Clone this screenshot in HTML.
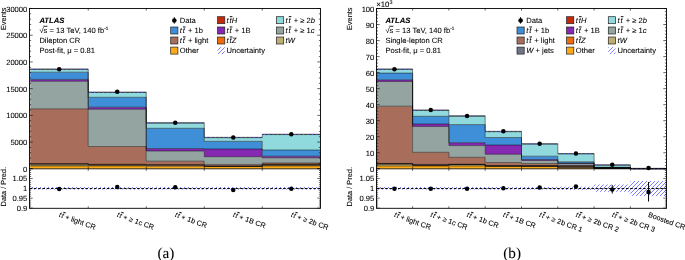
<!DOCTYPE html>
<html><head><meta charset="utf-8"><style>
html,body{margin:0;padding:0;background:#fff;}
svg{display:block;will-change:transform;}
text{font-family:"Liberation Sans", sans-serif;text-rendering:geometricPrecision;fill:#000;stroke:#000;stroke-width:0.08px;}
</style></head><body>
<svg width="685" height="260" viewBox="0 0 685 260">
<defs><pattern id="hatch" patternUnits="userSpaceOnUse" width="4" height="4"><path d="M-1,1 l2,-2 M0,4 l4,-4 M3,5 l2,-2" stroke="#5c5cff" stroke-width="0.95" stroke-opacity="0.85"/></pattern></defs>
<path d="M30.2,166 L88.22,166 L88.22,166 L146.24,166 L146.24,166.2 L204.26,166.2 L204.26,166.5 L262.28,166.5 L262.28,166 L320.3,166 L320.3,168.8 L262.28,168.8 L262.28,168.8 L204.26,168.8 L204.26,168.8 L146.24,168.8 L146.24,168.8 L88.22,168.8 L88.22,168.8 L30.2,168.8Z" fill="#fca916"/>
<path d="M30.2,164.3 L88.22,164.3 L88.22,165 L146.24,165 L146.24,165.3 L204.26,165.3 L204.26,166.3 L262.28,166.3 L262.28,165 L320.3,165 L320.3,166 L262.28,166 L262.28,166.5 L204.26,166.5 L204.26,166.2 L146.24,166.2 L146.24,166 L88.22,166 L88.22,166 L30.2,166Z" fill="#8c8559"/>
<path d="M30.2,163.9 L88.22,163.9 L88.22,164.6 L146.24,164.6 L146.24,164.9 L204.26,164.9 L204.26,166.2 L262.28,166.2 L262.28,164.6 L320.3,164.6 L320.3,165 L262.28,165 L262.28,166.3 L204.26,166.3 L204.26,165.3 L146.24,165.3 L146.24,165 L88.22,165 L88.22,164.3 L30.2,164.3Z" fill="#ee6a0c"/>
<path d="M30.2,163.5 L88.22,163.5 L88.22,164.3 L146.24,164.3 L146.24,164.6 L204.26,164.6 L204.26,166.1 L262.28,166.1 L262.28,164.3 L320.3,164.3 L320.3,164.6 L262.28,164.6 L262.28,166.2 L204.26,166.2 L204.26,164.9 L146.24,164.9 L146.24,164.6 L88.22,164.6 L88.22,163.9 L30.2,163.9Z" fill="#c42a0a"/>
<path d="M30.2,108.8 L88.22,108.8 L88.22,146.5 L146.24,146.5 L146.24,161.2 L204.26,161.2 L204.26,164.4 L262.28,164.4 L262.28,163 L320.3,163 L320.3,164.3 L262.28,164.3 L262.28,166.1 L204.26,166.1 L204.26,164.6 L146.24,164.6 L146.24,164.3 L88.22,164.3 L88.22,163.5 L30.2,163.5Z" fill="#a86e5b"/>
<path d="M30.2,81.3 L88.22,81.3 L88.22,109.3 L146.24,109.3 L146.24,151 L204.26,151 L204.26,156.7 L262.28,156.7 L262.28,157.8 L320.3,157.8 L320.3,163 L262.28,163 L262.28,164.4 L204.26,164.4 L204.26,161.2 L146.24,161.2 L146.24,146.5 L88.22,146.5 L88.22,108.8 L30.2,108.8Z" fill="#94a5a1"/>
<path d="M30.2,79.4 L88.22,79.4 L88.22,107.2 L146.24,107.2 L146.24,148.5 L204.26,148.5 L204.26,149 L262.28,149 L262.28,156.2 L320.3,156.2 L320.3,157.8 L262.28,157.8 L262.28,156.7 L204.26,156.7 L204.26,151 L146.24,151 L146.24,109.3 L88.22,109.3 L88.22,81.3 L30.2,81.3Z" fill="#8529b3"/>
<path d="M30.2,72.2 L88.22,72.2 L88.22,97.3 L146.24,97.3 L146.24,128.3 L204.26,128.3 L204.26,141.3 L262.28,141.3 L262.28,150 L320.3,150 L320.3,156.2 L262.28,156.2 L262.28,149 L204.26,149 L204.26,148.5 L146.24,148.5 L146.24,107.2 L88.22,107.2 L88.22,79.4 L30.2,79.4Z" fill="#3f8fd8"/>
<path d="M30.2,69 L88.22,69 L88.22,92.1 L146.24,92.1 L146.24,122.7 L204.26,122.7 L204.26,137.3 L262.28,137.3 L262.28,134.2 L320.3,134.2 L320.3,150 L262.28,150 L262.28,141.3 L204.26,141.3 L204.26,128.3 L146.24,128.3 L146.24,97.3 L88.22,97.3 L88.22,72.2 L30.2,72.2Z" fill="#90dadd"/>
<path d="M30.2,166 L88.22,166 L88.22,166 L146.24,166 L146.24,166.2 L204.26,166.2 L204.26,166.5 L262.28,166.5 L262.28,166 L320.3,166" fill="none" stroke="#000" stroke-width="0.55" stroke-opacity="0.85"/>
<path d="M30.2,164.3 L88.22,164.3 L88.22,165 L146.24,165 L146.24,165.3 L204.26,165.3 L204.26,166.3 L262.28,166.3 L262.28,165 L320.3,165" fill="none" stroke="#000" stroke-width="0.55" stroke-opacity="0.85"/>
<path d="M30.2,163.9 L88.22,163.9 L88.22,164.6 L146.24,164.6 L146.24,164.9 L204.26,164.9 L204.26,166.2 L262.28,166.2 L262.28,164.6 L320.3,164.6" fill="none" stroke="#000" stroke-width="0.55" stroke-opacity="0.85"/>
<path d="M30.2,163.5 L88.22,163.5 L88.22,164.3 L146.24,164.3 L146.24,164.6 L204.26,164.6 L204.26,166.1 L262.28,166.1 L262.28,164.3 L320.3,164.3" fill="none" stroke="#000" stroke-width="0.55" stroke-opacity="0.85"/>
<path d="M30.2,108.8 L88.22,108.8 L88.22,146.5 L146.24,146.5 L146.24,161.2 L204.26,161.2 L204.26,164.4 L262.28,164.4 L262.28,163 L320.3,163" fill="none" stroke="#000" stroke-width="0.55" stroke-opacity="0.85"/>
<path d="M30.2,81.3 L88.22,81.3 L88.22,109.3 L146.24,109.3 L146.24,151 L204.26,151 L204.26,156.7 L262.28,156.7 L262.28,157.8 L320.3,157.8" fill="none" stroke="#000" stroke-width="0.55" stroke-opacity="0.85"/>
<path d="M30.2,79.4 L88.22,79.4 L88.22,107.2 L146.24,107.2 L146.24,148.5 L204.26,148.5 L204.26,149 L262.28,149 L262.28,156.2 L320.3,156.2" fill="none" stroke="#000" stroke-width="0.55" stroke-opacity="0.85"/>
<path d="M30.2,72.2 L88.22,72.2 L88.22,97.3 L146.24,97.3 L146.24,128.3 L204.26,128.3 L204.26,141.3 L262.28,141.3 L262.28,150 L320.3,150" fill="none" stroke="#000" stroke-width="0.55" stroke-opacity="0.85"/>
<path d="M30.2,69 L88.22,69 L88.22,92.1 L146.24,92.1 L146.24,122.7 L204.26,122.7 L204.26,137.3 L262.28,137.3 L262.28,134.2 L320.3,134.2" fill="none" stroke="#000" stroke-width="0.55" stroke-opacity="0.85"/>
<line x1="30.2" y1="69.35" x2="88.22" y2="69.35" stroke="#2e2e2e" stroke-width="0.85"/>
<line x1="31.8" y1="69.25" x2="88.22" y2="69.25" stroke="#6a6af8" stroke-width="1.0" stroke-dasharray="1.1 3.25"/>
<line x1="88.22" y1="92.45" x2="146.24" y2="92.45" stroke="#2e2e2e" stroke-width="0.85"/>
<line x1="89.82" y1="92.35" x2="146.24" y2="92.35" stroke="#6a6af8" stroke-width="1.0" stroke-dasharray="1.1 3.25"/>
<line x1="146.24" y1="123.05" x2="204.26" y2="123.05" stroke="#2e2e2e" stroke-width="0.85"/>
<line x1="147.84" y1="122.95" x2="204.26" y2="122.95" stroke="#6a6af8" stroke-width="1.0" stroke-dasharray="1.1 3.25"/>
<line x1="204.26" y1="137.65" x2="262.28" y2="137.65" stroke="#2e2e2e" stroke-width="0.85"/>
<line x1="205.86" y1="137.55" x2="262.28" y2="137.55" stroke="#6a6af8" stroke-width="1.0" stroke-dasharray="1.1 3.25"/>
<line x1="262.28" y1="134.55" x2="320.3" y2="134.55" stroke="#2e2e2e" stroke-width="0.85"/>
<line x1="263.88" y1="134.45" x2="320.3" y2="134.45" stroke="#6a6af8" stroke-width="1.0" stroke-dasharray="1.1 3.25"/>
<path d="M376.3,166 L412.6,166 L412.6,166 L448.9,166 L448.9,166 L485.2,166 L485.2,166.2 L521.5,166.2 L521.5,166.5 L557.8,166.5 L557.8,167.9 L594.1,167.9 L594.1,168.3 L630.4,168.3 L630.4,168.6 L666.7,168.6 L666.7,168.8 L630.4,168.8 L630.4,168.8 L594.1,168.8 L594.1,168.8 L557.8,168.8 L557.8,168.8 L521.5,168.8 L521.5,168.8 L485.2,168.8 L485.2,168.8 L448.9,168.8 L448.9,168.8 L412.6,168.8 L412.6,168.8 L376.3,168.8Z" fill="#fca916"/>
<path d="M376.3,164.2 L412.6,164.2 L412.6,165.6 L448.9,165.6 L448.9,164.7 L485.2,164.7 L485.2,166.1 L521.5,166.1 L521.5,166.3 L557.8,166.3 L557.8,167.3 L594.1,167.3 L594.1,168.2 L630.4,168.2 L630.4,168.6 L666.7,168.6 L666.7,168.6 L630.4,168.6 L630.4,168.3 L594.1,168.3 L594.1,167.9 L557.8,167.9 L557.8,166.5 L521.5,166.5 L521.5,166.2 L485.2,166.2 L485.2,166 L448.9,166 L448.9,166 L412.6,166 L412.6,166 L376.3,166Z" fill="#bdae72"/>
<path d="M376.3,163.9 L412.6,163.9 L412.6,165.2 L448.9,165.2 L448.9,164.5 L485.2,164.5 L485.2,166 L521.5,166 L521.5,166.1 L557.8,166.1 L557.8,166.8 L594.1,166.8 L594.1,168.15 L630.4,168.15 L630.4,168.6 L666.7,168.6 L666.7,168.6 L630.4,168.6 L630.4,168.2 L594.1,168.2 L594.1,167.3 L557.8,167.3 L557.8,166.3 L521.5,166.3 L521.5,166.1 L485.2,166.1 L485.2,164.7 L448.9,164.7 L448.9,165.6 L412.6,165.6 L412.6,164.2 L376.3,164.2Z" fill="#ee6a0c"/>
<path d="M376.3,163.7 L412.6,163.7 L412.6,164.8 L448.9,164.8 L448.9,164.4 L485.2,164.4 L485.2,165.9 L521.5,165.9 L521.5,165.9 L557.8,165.9 L557.8,166.3 L594.1,166.3 L594.1,168.1 L630.4,168.1 L630.4,168.6 L666.7,168.6 L666.7,168.6 L630.4,168.6 L630.4,168.15 L594.1,168.15 L594.1,166.8 L557.8,166.8 L557.8,166.1 L521.5,166.1 L521.5,166 L485.2,166 L485.2,164.5 L448.9,164.5 L448.9,165.2 L412.6,165.2 L412.6,163.9 L376.3,163.9Z" fill="#c42a0a"/>
<path d="M376.3,163.4 L412.6,163.4 L412.6,164.4 L448.9,164.4 L448.9,164.3 L485.2,164.3 L485.2,165.8 L521.5,165.8 L521.5,165.5 L557.8,165.5 L557.8,165.8 L594.1,165.8 L594.1,168 L630.4,168 L630.4,168.6 L666.7,168.6 L666.7,168.6 L630.4,168.6 L630.4,168.1 L594.1,168.1 L594.1,166.3 L557.8,166.3 L557.8,165.9 L521.5,165.9 L521.5,165.9 L485.2,165.9 L485.2,164.4 L448.9,164.4 L448.9,164.8 L412.6,164.8 L412.6,163.7 L376.3,163.7Z" fill="#6f7585"/>
<path d="M376.3,106.2 L412.6,106.2 L412.6,152.3 L448.9,152.3 L448.9,157.3 L485.2,157.3 L485.2,162.5 L521.5,162.5 L521.5,163.5 L557.8,163.5 L557.8,165.3 L594.1,165.3 L594.1,167.9 L630.4,167.9 L630.4,168.6 L666.7,168.6 L666.7,168.6 L630.4,168.6 L630.4,168 L594.1,168 L594.1,165.8 L557.8,165.8 L557.8,165.5 L521.5,165.5 L521.5,165.8 L485.2,165.8 L485.2,164.3 L448.9,164.3 L448.9,164.4 L412.6,164.4 L412.6,163.4 L376.3,163.4Z" fill="#a86e5b"/>
<path d="M376.3,81.5 L412.6,81.5 L412.6,126.5 L448.9,126.5 L448.9,145.6 L485.2,145.6 L485.2,154.3 L521.5,154.3 L521.5,160.5 L557.8,160.5 L557.8,163.5 L594.1,163.5 L594.1,167.7 L630.4,167.7 L630.4,168.6 L666.7,168.6 L666.7,168.6 L630.4,168.6 L630.4,167.9 L594.1,167.9 L594.1,165.3 L557.8,165.3 L557.8,163.5 L521.5,163.5 L521.5,162.5 L485.2,162.5 L485.2,157.3 L448.9,157.3 L448.9,152.3 L412.6,152.3 L412.6,106.2 L376.3,106.2Z" fill="#94a5a1"/>
<path d="M376.3,79.8 L412.6,79.8 L412.6,124 L448.9,124 L448.9,142.7 L485.2,142.7 L485.2,145 L521.5,145 L521.5,159.5 L557.8,159.5 L557.8,163.1 L594.1,163.1 L594.1,167.6 L630.4,167.6 L630.4,168.6 L666.7,168.6 L666.7,168.6 L630.4,168.6 L630.4,167.7 L594.1,167.7 L594.1,163.5 L557.8,163.5 L557.8,160.5 L521.5,160.5 L521.5,154.3 L485.2,154.3 L485.2,145.6 L448.9,145.6 L448.9,126.5 L412.6,126.5 L412.6,81.5 L376.3,81.5Z" fill="#8529b3"/>
<path d="M376.3,73.1 L412.6,73.1 L412.6,116.3 L448.9,116.3 L448.9,124.6 L485.2,124.6 L485.2,137.5 L521.5,137.5 L521.5,156.2 L557.8,156.2 L557.8,161.8 L594.1,161.8 L594.1,167.3 L630.4,167.3 L630.4,168.5 L666.7,168.5 L666.7,168.6 L630.4,168.6 L630.4,167.6 L594.1,167.6 L594.1,163.1 L557.8,163.1 L557.8,159.5 L521.5,159.5 L521.5,145 L485.2,145 L485.2,142.7 L448.9,142.7 L448.9,124 L412.6,124 L412.6,79.8 L376.3,79.8Z" fill="#3f8fd8"/>
<path d="M376.3,69 L412.6,69 L412.6,110 L448.9,110 L448.9,115.8 L485.2,115.8 L485.2,131.3 L521.5,131.3 L521.5,143.7 L557.8,143.7 L557.8,153.5 L594.1,153.5 L594.1,164.8 L630.4,164.8 L630.4,168.3 L666.7,168.3 L666.7,168.5 L630.4,168.5 L630.4,167.3 L594.1,167.3 L594.1,161.8 L557.8,161.8 L557.8,156.2 L521.5,156.2 L521.5,137.5 L485.2,137.5 L485.2,124.6 L448.9,124.6 L448.9,116.3 L412.6,116.3 L412.6,73.1 L376.3,73.1Z" fill="#90dadd"/>
<path d="M376.3,166 L412.6,166 L412.6,166 L448.9,166 L448.9,166 L485.2,166 L485.2,166.2 L521.5,166.2 L521.5,166.5 L557.8,166.5 L557.8,167.9 L594.1,167.9 L594.1,168.3 L630.4,168.3 L630.4,168.6 L666.7,168.6" fill="none" stroke="#000" stroke-width="0.55" stroke-opacity="0.85"/>
<path d="M376.3,164.2 L412.6,164.2 L412.6,165.6 L448.9,165.6 L448.9,164.7 L485.2,164.7 L485.2,166.1 L521.5,166.1 L521.5,166.3 L557.8,166.3 L557.8,167.3 L594.1,167.3 L594.1,168.2 L630.4,168.2 L630.4,168.6 L666.7,168.6" fill="none" stroke="#000" stroke-width="0.55" stroke-opacity="0.85"/>
<path d="M376.3,163.9 L412.6,163.9 L412.6,165.2 L448.9,165.2 L448.9,164.5 L485.2,164.5 L485.2,166 L521.5,166 L521.5,166.1 L557.8,166.1 L557.8,166.8 L594.1,166.8 L594.1,168.15 L630.4,168.15 L630.4,168.6 L666.7,168.6" fill="none" stroke="#000" stroke-width="0.55" stroke-opacity="0.85"/>
<path d="M376.3,163.7 L412.6,163.7 L412.6,164.8 L448.9,164.8 L448.9,164.4 L485.2,164.4 L485.2,165.9 L521.5,165.9 L521.5,165.9 L557.8,165.9 L557.8,166.3 L594.1,166.3 L594.1,168.1 L630.4,168.1 L630.4,168.6 L666.7,168.6" fill="none" stroke="#000" stroke-width="0.55" stroke-opacity="0.85"/>
<path d="M376.3,163.4 L412.6,163.4 L412.6,164.4 L448.9,164.4 L448.9,164.3 L485.2,164.3 L485.2,165.8 L521.5,165.8 L521.5,165.5 L557.8,165.5 L557.8,165.8 L594.1,165.8 L594.1,168 L630.4,168 L630.4,168.6 L666.7,168.6" fill="none" stroke="#000" stroke-width="0.55" stroke-opacity="0.85"/>
<path d="M376.3,106.2 L412.6,106.2 L412.6,152.3 L448.9,152.3 L448.9,157.3 L485.2,157.3 L485.2,162.5 L521.5,162.5 L521.5,163.5 L557.8,163.5 L557.8,165.3 L594.1,165.3 L594.1,167.9 L630.4,167.9 L630.4,168.6 L666.7,168.6" fill="none" stroke="#000" stroke-width="0.55" stroke-opacity="0.85"/>
<path d="M376.3,81.5 L412.6,81.5 L412.6,126.5 L448.9,126.5 L448.9,145.6 L485.2,145.6 L485.2,154.3 L521.5,154.3 L521.5,160.5 L557.8,160.5 L557.8,163.5 L594.1,163.5 L594.1,167.7 L630.4,167.7 L630.4,168.6 L666.7,168.6" fill="none" stroke="#000" stroke-width="0.55" stroke-opacity="0.85"/>
<path d="M376.3,79.8 L412.6,79.8 L412.6,124 L448.9,124 L448.9,142.7 L485.2,142.7 L485.2,145 L521.5,145 L521.5,159.5 L557.8,159.5 L557.8,163.1 L594.1,163.1 L594.1,167.6 L630.4,167.6 L630.4,168.6 L666.7,168.6" fill="none" stroke="#000" stroke-width="0.55" stroke-opacity="0.85"/>
<path d="M376.3,73.1 L412.6,73.1 L412.6,116.3 L448.9,116.3 L448.9,124.6 L485.2,124.6 L485.2,137.5 L521.5,137.5 L521.5,156.2 L557.8,156.2 L557.8,161.8 L594.1,161.8 L594.1,167.3 L630.4,167.3 L630.4,168.5 L666.7,168.5" fill="none" stroke="#000" stroke-width="0.55" stroke-opacity="0.85"/>
<path d="M376.3,69 L412.6,69 L412.6,110 L448.9,110 L448.9,115.8 L485.2,115.8 L485.2,131.3 L521.5,131.3 L521.5,143.7 L557.8,143.7 L557.8,153.5 L594.1,153.5 L594.1,164.8 L630.4,164.8 L630.4,168.3 L666.7,168.3" fill="none" stroke="#000" stroke-width="0.55" stroke-opacity="0.85"/>
<line x1="376.3" y1="69.35" x2="412.6" y2="69.35" stroke="#2e2e2e" stroke-width="0.85"/>
<line x1="377.9" y1="69.25" x2="412.6" y2="69.25" stroke="#6a6af8" stroke-width="1.0" stroke-dasharray="1.1 3.25"/>
<line x1="412.6" y1="110.35" x2="448.9" y2="110.35" stroke="#2e2e2e" stroke-width="0.85"/>
<line x1="414.2" y1="110.25" x2="448.9" y2="110.25" stroke="#6a6af8" stroke-width="1.0" stroke-dasharray="1.1 3.25"/>
<line x1="448.9" y1="116.15" x2="485.2" y2="116.15" stroke="#2e2e2e" stroke-width="0.85"/>
<line x1="450.5" y1="116.05" x2="485.2" y2="116.05" stroke="#6a6af8" stroke-width="1.0" stroke-dasharray="1.1 3.25"/>
<line x1="485.2" y1="131.65" x2="521.5" y2="131.65" stroke="#2e2e2e" stroke-width="0.85"/>
<line x1="486.8" y1="131.55" x2="521.5" y2="131.55" stroke="#6a6af8" stroke-width="1.0" stroke-dasharray="1.1 3.25"/>
<line x1="521.5" y1="144.05" x2="557.8" y2="144.05" stroke="#2e2e2e" stroke-width="0.85"/>
<line x1="523.1" y1="143.95" x2="557.8" y2="143.95" stroke="#6a6af8" stroke-width="1.0" stroke-dasharray="1.1 3.25"/>
<line x1="557.8" y1="153.85" x2="594.1" y2="153.85" stroke="#2e2e2e" stroke-width="0.85"/>
<line x1="559.4" y1="153.75" x2="594.1" y2="153.75" stroke="#6a6af8" stroke-width="1.0" stroke-dasharray="1.1 3.25"/>
<line x1="594.1" y1="165.15" x2="630.4" y2="165.15" stroke="#2e2e2e" stroke-width="0.85"/>
<line x1="595.7" y1="165.05" x2="630.4" y2="165.05" stroke="#6a6af8" stroke-width="1.0" stroke-dasharray="1.1 3.25"/>
<line x1="630.4" y1="168.65" x2="666.7" y2="168.65" stroke="#2e2e2e" stroke-width="0.85"/>
<line x1="632" y1="168.55" x2="666.7" y2="168.55" stroke="#6a6af8" stroke-width="1.0" stroke-dasharray="1.1 3.25"/>
<circle cx="59.21" cy="69.2" r="2.25" fill="#000"/>
<circle cx="117.23" cy="91.7" r="2.25" fill="#000"/>
<circle cx="175.25" cy="122.7" r="2.25" fill="#000"/>
<circle cx="233.27" cy="137.5" r="2.25" fill="#000"/>
<circle cx="291.29" cy="134.2" r="2.25" fill="#000"/>
<circle cx="394.45" cy="69.2" r="2.25" fill="#000"/>
<circle cx="430.75" cy="110" r="2.25" fill="#000"/>
<circle cx="467.05" cy="116" r="2.25" fill="#000"/>
<circle cx="503.35" cy="131.3" r="2.25" fill="#000"/>
<circle cx="539.65" cy="143.7" r="2.25" fill="#000"/>
<circle cx="575.95" cy="153.4" r="2.25" fill="#000"/>
<circle cx="612.25" cy="164.8" r="2.25" fill="#000"/>
<circle cx="648.55" cy="167.9" r="2.25" fill="#000"/>
<rect x="30.2" y="187" width="58.02" height="2.6" fill="url(#hatch)"/>
<rect x="88.22" y="187" width="58.02" height="2.6" fill="url(#hatch)"/>
<rect x="146.24" y="187" width="58.02" height="2.6" fill="url(#hatch)"/>
<rect x="204.26" y="187" width="58.02" height="2.6" fill="url(#hatch)"/>
<rect x="262.28" y="187" width="58.02" height="2.6" fill="url(#hatch)"/>
<line x1="29.5" y1="188.55" x2="320.5" y2="188.55" stroke="#000" stroke-width="1.0" stroke-dasharray="2.6 1.7"/>
<circle cx="59.21" cy="189.1" r="2.25" fill="#000"/>
<circle cx="117.23" cy="186.9" r="2.25" fill="#000"/>
<circle cx="175.25" cy="187.3" r="2.25" fill="#000"/>
<circle cx="233.27" cy="190" r="2.25" fill="#000"/>
<circle cx="291.29" cy="188.7" r="2.25" fill="#000"/>
<rect x="376.3" y="187" width="36.3" height="2.6" fill="url(#hatch)"/>
<rect x="412.6" y="187" width="36.3" height="2.6" fill="url(#hatch)"/>
<rect x="448.9" y="187" width="36.3" height="2.6" fill="url(#hatch)"/>
<rect x="485.2" y="187" width="36.3" height="2.6" fill="url(#hatch)"/>
<rect x="521.5" y="187" width="36.3" height="2.6" fill="url(#hatch)"/>
<rect x="557.8" y="186.6" width="36.3" height="3.4" fill="url(#hatch)"/>
<rect x="594.1" y="184.5" width="36.3" height="7.3" fill="url(#hatch)"/>
<rect x="630.4" y="181" width="36.3" height="15" fill="url(#hatch)"/>
<line x1="376.5" y1="188.55" x2="666.5" y2="188.55" stroke="#000" stroke-width="1.0" stroke-dasharray="2.6 1.7"/>
<circle cx="394.45" cy="188.7" r="2.25" fill="#000"/>
<circle cx="430.75" cy="188.7" r="2.25" fill="#000"/>
<circle cx="467.05" cy="188.7" r="2.25" fill="#000"/>
<circle cx="503.35" cy="188.2" r="2.25" fill="#000"/>
<circle cx="539.65" cy="187.4" r="2.25" fill="#000"/>
<circle cx="575.95" cy="186.4" r="2.25" fill="#000"/>
<line x1="612.25" y1="185" x2="612.25" y2="193.5" stroke="#000" stroke-width="1.0"/>
<circle cx="612.25" cy="189.4" r="2.25" fill="#000"/>
<line x1="648.55" y1="182" x2="648.55" y2="201.5" stroke="#000" stroke-width="1.0"/>
<circle cx="648.55" cy="192" r="2.25" fill="#000"/>
<rect x="29.5" y="8.5" width="291" height="199.8" fill="none" stroke="#000" stroke-width="0.9"/>
<line x1="29.5" y1="168.8" x2="320.5" y2="168.8" stroke="#000" stroke-width="0.8"/>
<path d="M29.5,168.8h3.2 M320.5,168.8h-3.2 M29.5,142.08h3.2 M320.5,142.08h-3.2 M29.5,115.37h3.2 M320.5,115.37h-3.2 M29.5,88.65h3.2 M320.5,88.65h-3.2 M29.5,61.93h3.2 M320.5,61.93h-3.2 M29.5,35.22h3.2 M320.5,35.22h-3.2 M29.5,8.5h3.2 M320.5,8.5h-3.2 M29.5,163.46h1.6 M320.5,163.46h-1.6 M29.5,158.11h1.6 M320.5,158.11h-1.6 M29.5,152.77h1.6 M320.5,152.77h-1.6 M29.5,147.43h1.6 M320.5,147.43h-1.6 M29.5,136.74h1.6 M320.5,136.74h-1.6 M29.5,131.4h1.6 M320.5,131.4h-1.6 M29.5,126.05h1.6 M320.5,126.05h-1.6 M29.5,120.71h1.6 M320.5,120.71h-1.6 M29.5,110.02h1.6 M320.5,110.02h-1.6 M29.5,104.68h1.6 M320.5,104.68h-1.6 M29.5,99.34h1.6 M320.5,99.34h-1.6 M29.5,93.99h1.6 M320.5,93.99h-1.6 M29.5,83.31h1.6 M320.5,83.31h-1.6 M29.5,77.96h1.6 M320.5,77.96h-1.6 M29.5,72.62h1.6 M320.5,72.62h-1.6 M29.5,67.28h1.6 M320.5,67.28h-1.6 M29.5,56.59h1.6 M320.5,56.59h-1.6 M29.5,51.25h1.6 M320.5,51.25h-1.6 M29.5,45.9h1.6 M320.5,45.9h-1.6 M29.5,40.56h1.6 M320.5,40.56h-1.6 M29.5,29.87h1.6 M320.5,29.87h-1.6 M29.5,24.53h1.6 M320.5,24.53h-1.6 M29.5,19.19h1.6 M320.5,19.19h-1.6 M29.5,13.84h1.6 M320.5,13.84h-1.6 M29.5,208.05h3.2 M320.5,208.05h-3.2 M29.5,198.18h3.2 M320.5,198.18h-3.2 M29.5,188.3h3.2 M320.5,188.3h-3.2 M29.5,178.43h3.2 M320.5,178.43h-3.2 M29.5,168.55h3.2 M320.5,168.55h-3.2 M29.5,206.08h1.6 M320.5,206.08h-1.6 M29.5,204.1h1.6 M320.5,204.1h-1.6 M29.5,202.12h1.6 M320.5,202.12h-1.6 M29.5,200.15h1.6 M320.5,200.15h-1.6 M29.5,196.2h1.6 M320.5,196.2h-1.6 M29.5,194.23h1.6 M320.5,194.23h-1.6 M29.5,192.25h1.6 M320.5,192.25h-1.6 M29.5,190.28h1.6 M320.5,190.28h-1.6 M29.5,186.33h1.6 M320.5,186.33h-1.6 M29.5,184.35h1.6 M320.5,184.35h-1.6 M29.5,182.38h1.6 M320.5,182.38h-1.6 M29.5,180.4h1.6 M320.5,180.4h-1.6 M29.5,176.45h1.6 M320.5,176.45h-1.6 M29.5,174.48h1.6 M320.5,174.48h-1.6 M29.5,172.5h1.6 M320.5,172.5h-1.6 M29.5,170.53h1.6 M320.5,170.53h-1.6 M88.22,8.5v2 M88.22,168.8v-2 M88.22,168.8v2 M88.22,208.3v-2 M146.24,8.5v2 M146.24,168.8v-2 M146.24,168.8v2 M146.24,208.3v-2 M204.26,8.5v2 M204.26,168.8v-2 M204.26,168.8v2 M204.26,208.3v-2 M262.28,8.5v2 M262.28,168.8v-2 M262.28,168.8v2 M262.28,208.3v-2" stroke="#000" stroke-width="0.6" fill="none"/>
<rect x="376.5" y="8.5" width="290" height="199.8" fill="none" stroke="#000" stroke-width="0.9"/>
<line x1="376.5" y1="168.8" x2="666.5" y2="168.8" stroke="#000" stroke-width="0.8"/>
<path d="M376.5,168.8h3.2 M666.5,168.8h-3.2 M376.5,152.77h3.2 M666.5,152.77h-3.2 M376.5,136.74h3.2 M666.5,136.74h-3.2 M376.5,120.71h3.2 M666.5,120.71h-3.2 M376.5,104.68h3.2 M666.5,104.68h-3.2 M376.5,88.65h3.2 M666.5,88.65h-3.2 M376.5,72.62h3.2 M666.5,72.62h-3.2 M376.5,56.59h3.2 M666.5,56.59h-3.2 M376.5,40.56h3.2 M666.5,40.56h-3.2 M376.5,24.53h3.2 M666.5,24.53h-3.2 M376.5,8.5h3.2 M666.5,8.5h-3.2 M376.5,165.59h1.6 M666.5,165.59h-1.6 M376.5,162.39h1.6 M666.5,162.39h-1.6 M376.5,159.18h1.6 M666.5,159.18h-1.6 M376.5,155.98h1.6 M666.5,155.98h-1.6 M376.5,149.56h1.6 M666.5,149.56h-1.6 M376.5,146.36h1.6 M666.5,146.36h-1.6 M376.5,143.15h1.6 M666.5,143.15h-1.6 M376.5,139.95h1.6 M666.5,139.95h-1.6 M376.5,133.53h1.6 M666.5,133.53h-1.6 M376.5,130.33h1.6 M666.5,130.33h-1.6 M376.5,127.12h1.6 M666.5,127.12h-1.6 M376.5,123.92h1.6 M666.5,123.92h-1.6 M376.5,117.5h1.6 M666.5,117.5h-1.6 M376.5,114.3h1.6 M666.5,114.3h-1.6 M376.5,111.09h1.6 M666.5,111.09h-1.6 M376.5,107.89h1.6 M666.5,107.89h-1.6 M376.5,101.47h1.6 M666.5,101.47h-1.6 M376.5,98.27h1.6 M666.5,98.27h-1.6 M376.5,95.06h1.6 M666.5,95.06h-1.6 M376.5,91.86h1.6 M666.5,91.86h-1.6 M376.5,85.44h1.6 M666.5,85.44h-1.6 M376.5,82.24h1.6 M666.5,82.24h-1.6 M376.5,79.03h1.6 M666.5,79.03h-1.6 M376.5,75.83h1.6 M666.5,75.83h-1.6 M376.5,69.41h1.6 M666.5,69.41h-1.6 M376.5,66.21h1.6 M666.5,66.21h-1.6 M376.5,63h1.6 M666.5,63h-1.6 M376.5,59.8h1.6 M666.5,59.8h-1.6 M376.5,53.38h1.6 M666.5,53.38h-1.6 M376.5,50.18h1.6 M666.5,50.18h-1.6 M376.5,46.97h1.6 M666.5,46.97h-1.6 M376.5,43.77h1.6 M666.5,43.77h-1.6 M376.5,37.35h1.6 M666.5,37.35h-1.6 M376.5,34.15h1.6 M666.5,34.15h-1.6 M376.5,30.94h1.6 M666.5,30.94h-1.6 M376.5,27.74h1.6 M666.5,27.74h-1.6 M376.5,21.32h1.6 M666.5,21.32h-1.6 M376.5,18.12h1.6 M666.5,18.12h-1.6 M376.5,14.91h1.6 M666.5,14.91h-1.6 M376.5,11.71h1.6 M666.5,11.71h-1.6 M376.5,208.05h3.2 M666.5,208.05h-3.2 M376.5,198.18h3.2 M666.5,198.18h-3.2 M376.5,188.3h3.2 M666.5,188.3h-3.2 M376.5,178.43h3.2 M666.5,178.43h-3.2 M376.5,168.55h3.2 M666.5,168.55h-3.2 M376.5,206.08h1.6 M666.5,206.08h-1.6 M376.5,204.1h1.6 M666.5,204.1h-1.6 M376.5,202.12h1.6 M666.5,202.12h-1.6 M376.5,200.15h1.6 M666.5,200.15h-1.6 M376.5,196.2h1.6 M666.5,196.2h-1.6 M376.5,194.23h1.6 M666.5,194.23h-1.6 M376.5,192.25h1.6 M666.5,192.25h-1.6 M376.5,190.28h1.6 M666.5,190.28h-1.6 M376.5,186.33h1.6 M666.5,186.33h-1.6 M376.5,184.35h1.6 M666.5,184.35h-1.6 M376.5,182.38h1.6 M666.5,182.38h-1.6 M376.5,180.4h1.6 M666.5,180.4h-1.6 M376.5,176.45h1.6 M666.5,176.45h-1.6 M376.5,174.48h1.6 M666.5,174.48h-1.6 M376.5,172.5h1.6 M666.5,172.5h-1.6 M376.5,170.53h1.6 M666.5,170.53h-1.6 M412.6,8.5v2 M412.6,168.8v-2 M412.6,168.8v2 M412.6,208.3v-2 M448.9,8.5v2 M448.9,168.8v-2 M448.9,168.8v2 M448.9,208.3v-2 M485.2,8.5v2 M485.2,168.8v-2 M485.2,168.8v2 M485.2,208.3v-2 M521.5,8.5v2 M521.5,168.8v-2 M521.5,168.8v2 M521.5,208.3v-2 M557.8,8.5v2 M557.8,168.8v-2 M557.8,168.8v2 M557.8,208.3v-2 M594.1,8.5v2 M594.1,168.8v-2 M594.1,168.8v2 M594.1,208.3v-2 M630.4,8.5v2 M630.4,168.8v-2 M630.4,168.8v2 M630.4,208.3v-2" stroke="#000" stroke-width="0.6" fill="none"/>
<line x1="174.3" y1="17.2" x2="174.3" y2="23.6" stroke="#000" stroke-width="1"/>
<circle cx="174.3" cy="20.5" r="2.3" fill="#000"/>
<rect x="170.7" y="27" width="7.2" height="7" fill="#3f8fd8" stroke="#222" stroke-width="0.7"/>
<rect x="170.7" y="37" width="7.2" height="7" fill="#a86e5b" stroke="#222" stroke-width="0.7"/>
<rect x="170.7" y="47.1" width="7.2" height="7" fill="#fca916" stroke="#222" stroke-width="0.7"/>
<rect x="217.6" y="16.7" width="7.2" height="7" fill="#c42a0a" stroke="#222" stroke-width="0.7"/>
<rect x="217.6" y="27" width="7.2" height="7" fill="#8529b3" stroke="#222" stroke-width="0.7"/>
<rect x="217.6" y="37" width="7.2" height="7" fill="#ee6a0c" stroke="#222" stroke-width="0.7"/>
<rect x="217.6" y="47.1" width="7.2" height="7" fill="url(#hatch)"/>
<rect x="276.5" y="16.7" width="7.2" height="7" fill="#90dadd" stroke="#222" stroke-width="0.7"/>
<rect x="276.5" y="27" width="7.2" height="7" fill="#94a5a1" stroke="#222" stroke-width="0.7"/>
<rect x="276.5" y="37" width="7.2" height="7" fill="#bdae72" stroke="#222" stroke-width="0.7"/>
<line x1="520.6" y1="17.2" x2="520.6" y2="23.6" stroke="#000" stroke-width="1"/>
<circle cx="520.6" cy="20.5" r="2.3" fill="#000"/>
<rect x="517" y="27" width="7.2" height="7" fill="#3f8fd8" stroke="#222" stroke-width="0.7"/>
<rect x="517" y="37" width="7.2" height="7" fill="#a86e5b" stroke="#222" stroke-width="0.7"/>
<rect x="517" y="47.1" width="7.2" height="7" fill="#6f7585" stroke="#222" stroke-width="0.7"/>
<rect x="566.6" y="16.7" width="7.2" height="7" fill="#c42a0a" stroke="#222" stroke-width="0.7"/>
<rect x="566.6" y="27" width="7.2" height="7" fill="#8529b3" stroke="#222" stroke-width="0.7"/>
<rect x="566.6" y="37" width="7.2" height="7" fill="#ee6a0c" stroke="#222" stroke-width="0.7"/>
<rect x="566.6" y="47.1" width="7.2" height="7" fill="#fca916" stroke="#222" stroke-width="0.7"/>
<rect x="608.3" y="16.7" width="7.2" height="7" fill="#90dadd" stroke="#222" stroke-width="0.7"/>
<rect x="608.3" y="27" width="7.2" height="7" fill="#94a5a1" stroke="#222" stroke-width="0.7"/>
<rect x="608.3" y="37" width="7.2" height="7" fill="#bdae72" stroke="#222" stroke-width="0.7"/>
<rect x="608.3" y="47.1" width="7.2" height="7" fill="url(#hatch)"/>
<text x="27.3" y="171.8" font-size="7.6" text-anchor="end" >0</text>
<text x="27.3" y="145.08" font-size="7.6" text-anchor="end" >5000</text>
<text x="27.3" y="118.37" font-size="7.6" text-anchor="end" >10000</text>
<text x="27.3" y="91.65" font-size="7.6" text-anchor="end" >15000</text>
<text x="27.3" y="64.93" font-size="7.6" text-anchor="end" >20000</text>
<text x="27.3" y="38.22" font-size="7.6" text-anchor="end" >25000</text>
<text x="27.3" y="11.5" font-size="7.6" text-anchor="end" >30000</text>
<text x="374.3" y="171.8" font-size="7.6" text-anchor="end" >0</text>
<text x="374.3" y="155.77" font-size="7.6" text-anchor="end" >10</text>
<text x="374.3" y="139.74" font-size="7.6" text-anchor="end" >20</text>
<text x="374.3" y="123.71" font-size="7.6" text-anchor="end" >30</text>
<text x="374.3" y="107.68" font-size="7.6" text-anchor="end" >40</text>
<text x="374.3" y="91.65" font-size="7.6" text-anchor="end" >50</text>
<text x="374.3" y="75.62" font-size="7.6" text-anchor="end" >60</text>
<text x="374.3" y="59.59" font-size="7.6" text-anchor="end" >70</text>
<text x="374.3" y="43.56" font-size="7.6" text-anchor="end" >80</text>
<text x="374.3" y="27.53" font-size="7.6" text-anchor="end" >90</text>
<text x="374.3" y="11.5" font-size="7.6" text-anchor="end" >100</text>
<text x="27.3" y="181.43" font-size="7.6" text-anchor="end" >1.05</text>
<text x="27.3" y="191.3" font-size="7.6" text-anchor="end" >1</text>
<text x="27.3" y="201.18" font-size="7.6" text-anchor="end" >0.95</text>
<text x="27.3" y="211.05" font-size="7.6" text-anchor="end" >0.9</text>
<text x="374.3" y="181.43" font-size="7.6" text-anchor="end" >1.05</text>
<text x="374.3" y="191.3" font-size="7.6" text-anchor="end" >1</text>
<text x="374.3" y="201.18" font-size="7.6" text-anchor="end" >0.95</text>
<text x="374.3" y="211.05" font-size="7.6" text-anchor="end" >0.9</text>
<text x="376.2" y="7.45" font-size="7.8" text-anchor="start" >×10<tspan font-size="5.4" dy="-3.7">3</tspan></text>
<text transform="translate(5.6,7.5) rotate(-90)" font-size="7.4" text-anchor="end">Events</text>
<text transform="translate(351.9,7.5) rotate(-90)" font-size="7.4" text-anchor="end">Events</text>
<text transform="translate(5.6,167) rotate(-90)" font-size="7.4" text-anchor="end">Data / Pred.</text>
<text transform="translate(351.9,167) rotate(-90)" font-size="7.4" text-anchor="end">Data / Pred.</text>
<text x="39.4" y="22.6" font-size="7.7" text-anchor="start" font-weight="bold" font-style="italic">ATLAS</text>
<text x="39.4" y="32.9" font-size="7.6">√<tspan text-decoration="overline">s</tspan> = 13 TeV, 140 fb<tspan font-size="4.6" dy="-3.3">-1</tspan></text>
<text x="39.4" y="43" font-size="7.6" text-anchor="start" >Dilepton CR</text>
<text x="39.4" y="53.2" font-size="7.6" text-anchor="start" >Post-fit, μ = 0.81</text>
<text x="385.4" y="22.6" font-size="7.7" text-anchor="start" font-weight="bold" font-style="italic">ATLAS</text>
<text x="385.4" y="32.9" font-size="7.6">√<tspan text-decoration="overline">s</tspan> = 13 TeV, 140 fb<tspan font-size="4.6" dy="-3.3">-1</tspan></text>
<text x="385.4" y="43" font-size="7.6" text-anchor="start" >Single-lepton CR</text>
<text x="385.4" y="53.2" font-size="7.6" text-anchor="start" >Post-fit, μ = 0.81</text>
<text x="179.8" y="22.9" font-size="7.6" text-anchor="start">Data</text>
<text x="179.8" y="33.2" font-size="7.6" text-anchor="start"><tspan font-style="italic">t</tspan><tspan font-style="italic" dx="0.84">t</tspan><tspan dx="0.9"> + 1b</tspan></text>
<line x1="182.98" y1="26.97" x2="185.62" y2="26.97" stroke="#000" stroke-width="0.95"/>
<text x="179.8" y="43.2" font-size="7.6" text-anchor="start"><tspan font-style="italic">t</tspan><tspan font-style="italic" dx="0.84">t</tspan><tspan dx="0.9"> + light</tspan></text>
<line x1="182.98" y1="36.97" x2="185.62" y2="36.97" stroke="#000" stroke-width="0.95"/>
<text x="179.8" y="53.3" font-size="7.6" text-anchor="start">Other</text>
<text x="226.6" y="22.9" font-size="7.6" text-anchor="start"><tspan font-style="italic">t</tspan><tspan font-style="italic" dx="0.84">t</tspan><tspan font-style="italic">H</tspan></text>
<line x1="229.78" y1="16.67" x2="232.42" y2="16.67" stroke="#000" stroke-width="0.95"/>
<text x="226.6" y="33.2" font-size="7.6" text-anchor="start"><tspan font-style="italic">t</tspan><tspan font-style="italic" dx="0.84">t</tspan><tspan dx="0.9"> + 1B</tspan></text>
<line x1="229.78" y1="26.97" x2="232.42" y2="26.97" stroke="#000" stroke-width="0.95"/>
<text x="226.6" y="43.2" font-size="7.6" text-anchor="start"><tspan font-style="italic">t</tspan><tspan font-style="italic" dx="0.84">t</tspan><tspan font-style="italic">Z</tspan></text>
<line x1="229.78" y1="36.97" x2="232.42" y2="36.97" stroke="#000" stroke-width="0.95"/>
<text x="226.6" y="53.3" font-size="7.6" text-anchor="start">Uncertainty</text>
<text x="285.6" y="22.9" font-size="7.6" text-anchor="start"><tspan font-style="italic">t</tspan><tspan font-style="italic" dx="0.84">t</tspan><tspan dx="0.9"> + ≥ 2</tspan><tspan font-style="italic">b</tspan></text>
<line x1="288.78" y1="16.67" x2="291.42" y2="16.67" stroke="#000" stroke-width="0.95"/>
<text x="285.6" y="33.2" font-size="7.6" text-anchor="start"><tspan font-style="italic">t</tspan><tspan font-style="italic" dx="0.84">t</tspan><tspan dx="0.9"> + ≥ 1</tspan><tspan font-style="italic">c</tspan></text>
<line x1="288.78" y1="26.97" x2="291.42" y2="26.97" stroke="#000" stroke-width="0.95"/>
<text x="285.6" y="43.2" font-size="7.6" text-anchor="start"><tspan font-style="italic">tW</tspan></text>
<text x="526.2" y="22.9" font-size="7.6" text-anchor="start">Data</text>
<text x="526.2" y="33.2" font-size="7.6" text-anchor="start"><tspan font-style="italic">t</tspan><tspan font-style="italic" dx="0.84">t</tspan><tspan dx="0.9"> + 1b</tspan></text>
<line x1="529.38" y1="26.97" x2="532.02" y2="26.97" stroke="#000" stroke-width="0.95"/>
<text x="526.2" y="43.2" font-size="7.6" text-anchor="start"><tspan font-style="italic">t</tspan><tspan font-style="italic" dx="0.84">t</tspan><tspan dx="0.9"> + light</tspan></text>
<line x1="529.38" y1="36.97" x2="532.02" y2="36.97" stroke="#000" stroke-width="0.95"/>
<text x="526.2" y="53.3" font-size="7.6" text-anchor="start"><tspan font-style="italic">W</tspan> + jets</text>
<text x="575.8" y="22.9" font-size="7.6" text-anchor="start"><tspan font-style="italic">t</tspan><tspan font-style="italic" dx="0.84">t</tspan><tspan font-style="italic">H</tspan></text>
<line x1="578.98" y1="16.67" x2="581.62" y2="16.67" stroke="#000" stroke-width="0.95"/>
<text x="575.8" y="33.2" font-size="7.6" text-anchor="start"><tspan font-style="italic">t</tspan><tspan font-style="italic" dx="0.84">t</tspan><tspan dx="0.9"> + 1B</tspan></text>
<line x1="578.98" y1="26.97" x2="581.62" y2="26.97" stroke="#000" stroke-width="0.95"/>
<text x="575.8" y="43.2" font-size="7.6" text-anchor="start"><tspan font-style="italic">t</tspan><tspan font-style="italic" dx="0.84">t</tspan><tspan font-style="italic">Z</tspan></text>
<line x1="578.98" y1="36.97" x2="581.62" y2="36.97" stroke="#000" stroke-width="0.95"/>
<text x="575.8" y="53.3" font-size="7.6" text-anchor="start">Other</text>
<text x="617.6" y="22.9" font-size="7.6" text-anchor="start"><tspan font-style="italic">t</tspan><tspan font-style="italic" dx="0.84">t</tspan><tspan dx="0.9"> + ≥ 2</tspan><tspan font-style="italic">b</tspan></text>
<line x1="620.78" y1="16.67" x2="623.42" y2="16.67" stroke="#000" stroke-width="0.95"/>
<text x="617.6" y="33.2" font-size="7.6" text-anchor="start"><tspan font-style="italic">t</tspan><tspan font-style="italic" dx="0.84">t</tspan><tspan dx="0.9"> + ≥ 1</tspan><tspan font-style="italic">c</tspan></text>
<line x1="620.78" y1="26.97" x2="623.42" y2="26.97" stroke="#000" stroke-width="0.95"/>
<text x="617.6" y="43.2" font-size="7.6" text-anchor="start"><tspan font-style="italic">tW</tspan></text>
<text x="617.6" y="53.3" font-size="7.6" text-anchor="start">Uncertainty</text>
<g transform="translate(58.41,216.6) rotate(20)"><text x="0" y="0" font-size="7.2"><tspan font-style="italic">t</tspan><tspan font-style="italic" dx="0.79">t</tspan> + light CR</text><line x1="3.01" y1="-5.9" x2="5.51" y2="-5.9" stroke="#000" stroke-width="0.95"/></g>
<g transform="translate(116.43,216.6) rotate(20)"><text x="0" y="0" font-size="7.2"><tspan font-style="italic">t</tspan><tspan font-style="italic" dx="0.79">t</tspan> + ≥ 1c CR</text><line x1="3.01" y1="-5.9" x2="5.51" y2="-5.9" stroke="#000" stroke-width="0.95"/></g>
<g transform="translate(174.45,216.6) rotate(20)"><text x="0" y="0" font-size="7.2"><tspan font-style="italic">t</tspan><tspan font-style="italic" dx="0.79">t</tspan> + 1b CR</text><line x1="3.01" y1="-5.9" x2="5.51" y2="-5.9" stroke="#000" stroke-width="0.95"/></g>
<g transform="translate(232.47,216.6) rotate(20)"><text x="0" y="0" font-size="7.2"><tspan font-style="italic">t</tspan><tspan font-style="italic" dx="0.79">t</tspan> + 1B CR</text><line x1="3.01" y1="-5.9" x2="5.51" y2="-5.9" stroke="#000" stroke-width="0.95"/></g>
<g transform="translate(290.49,216.6) rotate(20)"><text x="0" y="0" font-size="7.2"><tspan font-style="italic">t</tspan><tspan font-style="italic" dx="0.79">t</tspan> + ≥ 2b CR</text><line x1="3.01" y1="-5.9" x2="5.51" y2="-5.9" stroke="#000" stroke-width="0.95"/></g>
<g transform="translate(393.65,216.6) rotate(20)"><text x="0" y="0" font-size="7.2"><tspan font-style="italic">t</tspan><tspan font-style="italic" dx="0.79">t</tspan> + light CR</text><line x1="3.01" y1="-5.9" x2="5.51" y2="-5.9" stroke="#000" stroke-width="0.95"/></g>
<g transform="translate(429.95,216.6) rotate(20)"><text x="0" y="0" font-size="7.2"><tspan font-style="italic">t</tspan><tspan font-style="italic" dx="0.79">t</tspan> + ≥ 1c CR</text><line x1="3.01" y1="-5.9" x2="5.51" y2="-5.9" stroke="#000" stroke-width="0.95"/></g>
<g transform="translate(466.25,216.6) rotate(20)"><text x="0" y="0" font-size="7.2"><tspan font-style="italic">t</tspan><tspan font-style="italic" dx="0.79">t</tspan> + 1b CR</text><line x1="3.01" y1="-5.9" x2="5.51" y2="-5.9" stroke="#000" stroke-width="0.95"/></g>
<g transform="translate(502.55,216.6) rotate(20)"><text x="0" y="0" font-size="7.2"><tspan font-style="italic">t</tspan><tspan font-style="italic" dx="0.79">t</tspan> + 1B CR</text><line x1="3.01" y1="-5.9" x2="5.51" y2="-5.9" stroke="#000" stroke-width="0.95"/></g>
<g transform="translate(538.85,216.6) rotate(20)"><text x="0" y="0" font-size="7.2"><tspan font-style="italic">t</tspan><tspan font-style="italic" dx="0.79">t</tspan> + ≥ 2b CR 1</text><line x1="3.01" y1="-5.9" x2="5.51" y2="-5.9" stroke="#000" stroke-width="0.95"/></g>
<g transform="translate(575.15,216.6) rotate(20)"><text x="0" y="0" font-size="7.2"><tspan font-style="italic">t</tspan><tspan font-style="italic" dx="0.79">t</tspan> + ≥ 2b CR 2</text><line x1="3.01" y1="-5.9" x2="5.51" y2="-5.9" stroke="#000" stroke-width="0.95"/></g>
<g transform="translate(611.45,216.6) rotate(20)"><text x="0" y="0" font-size="7.2"><tspan font-style="italic">t</tspan><tspan font-style="italic" dx="0.79">t</tspan> + ≥ 2b CR 3</text><line x1="3.01" y1="-5.9" x2="5.51" y2="-5.9" stroke="#000" stroke-width="0.95"/></g>
<g transform="translate(647.75,216.6) rotate(20)"><text x="0" y="0" font-size="7.2">Boosted CR</text></g>
<text x="166" y="257.7" font-size="15.2" text-anchor="middle" style="font-family:'Liberation Serif', serif">(a)</text>
<text x="512.1" y="257.7" font-size="15.2" text-anchor="middle" style="font-family:'Liberation Serif', serif">(b)</text>
</svg>
</body></html>
